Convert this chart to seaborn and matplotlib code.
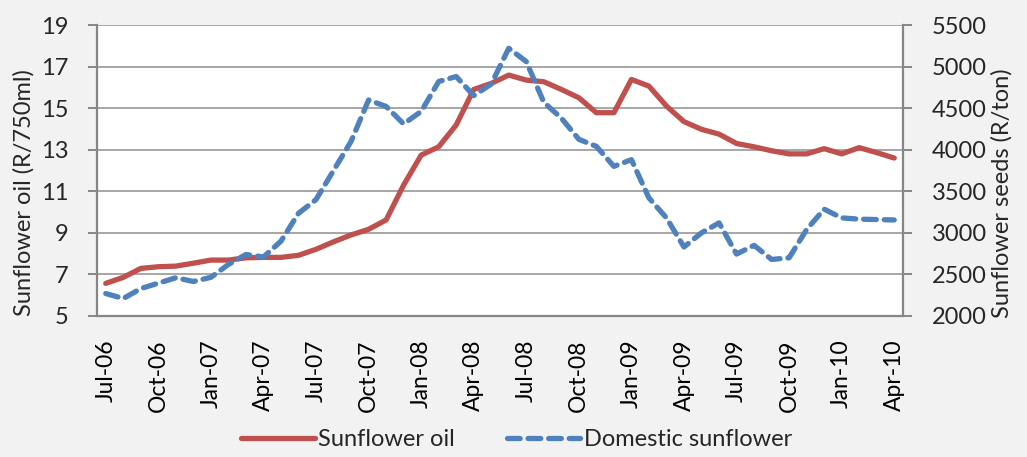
import numpy as np
import pandas as pd
import matplotlib
matplotlib.use("Agg")
import matplotlib.pyplot as plt
import seaborn as sns
from matplotlib.ticker import FixedLocator

months = ["Jul-06", "Aug-06", "Sep-06", "Oct-06", "Nov-06", "Dec-06",
          "Jan-07", "Feb-07", "Mar-07", "Apr-07", "May-07", "Jun-07",
          "Jul-07", "Aug-07", "Sep-07", "Oct-07", "Nov-07", "Dec-07",
          "Jan-08", "Feb-08", "Mar-08", "Apr-08", "May-08", "Jun-08",
          "Jul-08", "Aug-08", "Sep-08", "Oct-08", "Nov-08", "Dec-08",
          "Jan-09", "Feb-09", "Mar-09", "Apr-09", "May-09", "Jun-09",
          "Jul-09", "Aug-09", "Sep-09", "Oct-09", "Nov-09", "Dec-09",
          "Jan-10", "Feb-10", "Mar-10", "Apr-10"]

sunflower_oil = [6.57, 6.86, 7.29, 7.37, 7.40, 7.54, 7.69, 7.69, 7.80, 7.82,
                 7.82, 7.92, 8.21, 8.57, 8.90, 9.17, 9.62, 11.30, 12.74, 13.14,
                 14.19, 15.90, 16.19, 16.59, 16.35, 16.27, 15.90, 15.50, 14.78, 14.78,
                 16.38, 16.06, 15.10, 14.35, 13.98, 13.75, 13.30, 13.14, 12.95, 12.80,
                 12.80, 13.05, 12.80, 13.10, 12.86, 12.60]

domestic_sunflower = [2270, 2210, 2330, 2395, 2460, 2415, 2465, 2620, 2740, 2710,
                      2900, 3235, 3400, 3750, 4100, 4598, 4520, 4310, 4460, 4820,
                      4880, 4650, 4790, 5220, 5060, 4570, 4380, 4125, 4040, 3800,
                      3880, 3420, 3180, 2830, 3000, 3120, 2745, 2850, 2680, 2700,
                      3040, 3285, 3180, 3165, 3160, 3155]

left_ticks = [5, 7, 9, 11, 13, 15, 17, 19]
right_ticks = [2000, 2500, 3000, 3500, 4000, 4500, 5000, 5500]

df = pd.DataFrame({"idx": np.arange(len(months)), "month": months,
                   "oil": sunflower_oil, "seeds": domestic_sunflower})

sns.set_style("white")
plt.rcParams["font.family"] = ["Lato", "DejaVu Sans"]

RED = "#C0504D"
BLUE = "#4F81BD"
GRID = "#A6A6A6"
SPINE = "#868686"

fig = plt.figure(figsize=(10.27, 4.57), dpi=100, facecolor="#F2F2F2")
ax = fig.add_axes([97 / 1027, 1 - 316 / 457, (903 - 97) / 1027, (316 - 25) / 457])
ax.set_facecolor("white")
ax2 = ax.twinx()
ax2.patch.set_alpha(0)

sns.lineplot(data=df, x="idx", y="oil", ax=ax, color=RED, linewidth=3.8,
             solid_capstyle="round", solid_joinstyle="round", label="Sunflower oil", legend=False)
sns.lineplot(data=df, x="idx", y="seeds", ax=ax2, color=BLUE, linewidth=3.8,
             label="Domestic sunflower", legend=False)
for ln in ax2.get_lines():
    ln.set_dashes([2.4, 1.5])
    ln.set_dash_capstyle("round")

n = len(months)
ax.set_xlim(-0.5, n - 0.5)
ax.set_ylim(5, 19)
ax2.set_ylim(2000, 5500)
ax.set_yticks(left_ticks)
ax2.set_yticks(right_ticks)
ax.set_yticklabels([str(t) for t in left_ticks])
ax2.set_yticklabels([str(t) for t in right_ticks])

label_pos = list(range(0, n, 3))
ax.set_xticks(label_pos)
ax.set_xticklabels([months[i] for i in label_pos], rotation=90)
ax.xaxis.set_minor_locator(FixedLocator([p - 0.5 for p in label_pos]))

ax.grid(axis="y", color=GRID, linewidth=1.4)
ax.set_axisbelow(True)

for a in (ax, ax2):
    for s in a.spines.values():
        s.set_visible(False)
ax.spines["left"].set_visible(True)
ax.spines["bottom"].set_visible(True)
ax2.spines["right"].set_visible(True)
for s in (ax.spines["left"], ax.spines["bottom"], ax2.spines["right"]):
    s.set_color(SPINE)
    s.set_linewidth(1.6)

fs = 17
ax.tick_params(axis="x", which="major", length=0, pad=17, labelsize=16.5, colors="black")
ax.tick_params(axis="x", which="minor", length=6, width=1.4, color=SPINE, direction="out")
ax.tick_params(axis="y", length=6.5, width=1.4, color=SPINE, direction="out", labelsize=fs, pad=14)
ax2.tick_params(axis="y", length=6.5, width=1.4, color=SPINE, direction="out", labelsize=fs, pad=14)

ax.set_xlabel("")
ax.set_ylabel("Sunflower oil (R/750ml)", fontsize=17)
ax2.set_ylabel("Sunflower seeds (R/ton)", fontsize=17)
ax.yaxis.set_label_coords(-(97 - 35) / 806, 0.423)
ax2.yaxis.set_label_coords(1 + (991 - 903) / 806, 0.423)

h1 = ax.get_lines()[0]
h2 = ax2.get_lines()[0]
fig.legend([h1, h2], ["Sunflower oil", "Domestic sunflower"], loc="center",
           bbox_to_anchor=(0.503, 1 - 440 / 457), ncol=2, frameon=False,
           fontsize=17, handlelength=3.1, handletextpad=0.15, columnspacing=2.2)

fig.savefig("out.png", dpi=100, facecolor=fig.get_facecolor())
